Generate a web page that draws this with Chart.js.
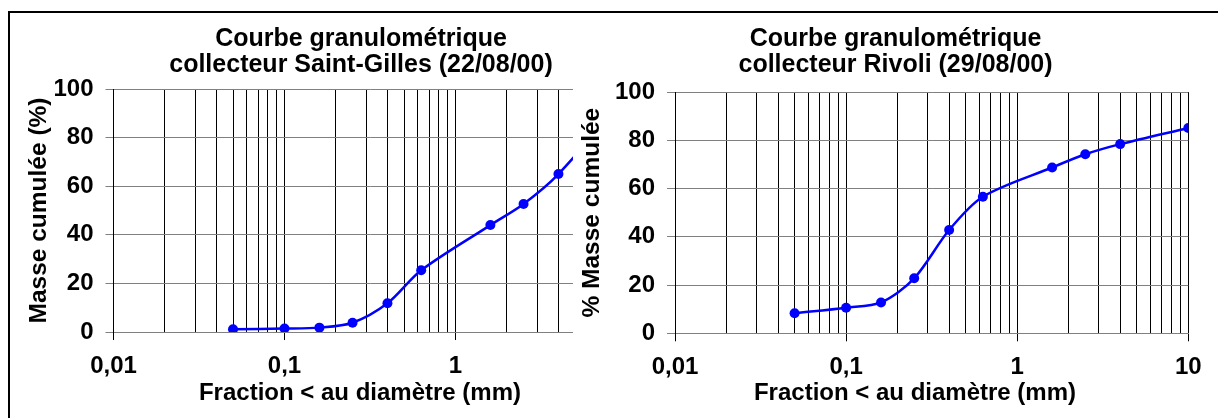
<!DOCTYPE html>
<html>
<head>
<meta charset="utf-8">
<script src="https://cdn.jsdelivr.net/npm/chart.js@4.4.0/dist/chart.umd.min.js"></script>
<style>
body { margin: 0; background: #fff; width: 1218px; height: 418px; overflow: hidden; position: relative; }
#cadre { position: absolute; left: 8px; top: 11px; width: 1300px; height: 500px; border-left: 2px solid #000; border-top: 2px solid #000; z-index: 5; }
#gauche { position: absolute; left: 10px; top: 14px; }
#droite { position: absolute; left: 573px; top: 14px; background: #fff; z-index: 2; }
</style>
</head>
<body>
<div id="cadre"></div>
<canvas id="gauche" width="702" height="404"></canvas>
<canvas id="droite" width="645" height="404"></canvas>
<script>
// tamis (mm) et masse cumulee (%)
const diametres = [0.05, 0.1, 0.16, 0.25, 0.4, 0.63, 1.6, 2.5, 4, 10];
const masseStGilles = [1.1, 1.4, 1.8, 3.8, 11.8, 25.4, 44, 52.7, 65, 97];
const masseRivoli = [8.3, 10.6, 12.8, 22.8, 42.8, 56.6, 68.7, 74.2, 78.4, 85.1];

const decades = [0.01, 0.1, 1, 10];
const decadeLabels = ['0,01', '0,1', '1', '10'];

// lignes de grille log : 1..9 x chaque decade
const grilleX = [];
for (let d = 0; d < 3; d++) {
    for (let k = 1; k < 10; k++) {
        grilleX.push(Number((k * decades[d]).toPrecision(3)));
    }
}
grilleX.push(10);

const estDecade = v => decades.some(d => Math.abs(d - v) < 1e-9);

Chart.defaults.font.family = "Arial, 'Liberation Sans', sans-serif";
Chart.defaults.color = '#000';

function courbe(id, titre, titreY, valeurs, p) {
    const ctx = document.getElementById(id).getContext('2d');
    return new Chart(ctx, {
        type: 'line',
        data: {
            datasets: [{
                data: diametres.map((d, i) => ({ x: d, y: valeurs[i] })),
                borderColor: '#0000ff',
                backgroundColor: '#0000ff',
                borderWidth: 2.5,
                pointRadius: 5,
                pointBorderWidth: 0,
                tension: 0.3,
                fill: false
            }]
        },
        options: {
            responsive: false,
            animation: false,
            layout: { padding: 0 },
            plugins: {
                legend: { display: false },
                tooltip: { enabled: false },
                title: {
                    display: true,
                    text: titre,
                    color: '#000',
                    font: { size: 25, weight: 'bold', lineHeight: 26 / 25 },
                    padding: { top: 12, bottom: p.titreBas }
                }
            },
            scales: {
                x: {
                    type: 'logarithmic',
                    min: 0.01,
                    max: 10,
                    afterBuildTicks: s => { s.ticks = grilleX.map(v => ({ value: v })); },
                    afterFit: s => { s.height = p.hautX; s.paddingRight = p.droite; },
                    grid: {
                        color: '#000',
                        lineWidth: 1,
                        tickLength: 8,
                        tickColor: c => estDecade(c.tick.value) ? '#000' : 'rgba(0,0,0,0)'
                    },
                    border: { color: '#808080' },
                    ticks: {
                        autoSkip: false,
                        maxRotation: 0,
                        padding: 12,
                        font: { size: 24, weight: 'bold' },
                        callback: v => {
                            const i = decades.findIndex(d => Math.abs(d - v) < 1e-9);
                            return i >= 0 ? decadeLabels[i] : '';
                        }
                    },
                    title: {
                        display: true,
                        // espaces insecables : titre decale vers la gauche comme dans Excel
                        text: 'Fraction < au diamètre (mm)' + '\u00a0'.repeat(p.decalX),
                        font: { size: 24, weight: 'bold' },
                        padding: { top: 0, bottom: 10 }
                    }
                },
                y: {
                    min: 0,
                    max: 100,
                    afterFit: s => { s.width = p.largeY; },
                    grid: { color: '#808080', lineWidth: 1, tickLength: 8, tickColor: '#808080' },
                    border: { color: '#000' },
                    ticks: {
                        stepSize: 20,
                        padding: 12,
                        font: { size: 24, weight: 'bold' }
                    },
                    title: {
                        display: true,
                        text: titreY,
                        font: { size: 24.5, weight: 'bold' },
                        padding: { top: p.titreYPad, bottom: 0 }
                    }
                }
            }
        }
    });
}

courbe('gauche', ['Courbe granulométrique', 'collecteur Saint-Gilles (22/08/00)'],
    'Masse cumulée (%)', masseStGilles,
    { titreBas: 11, hautX: 86, droite: 85.5, largeY: 103.5, titreYPad: 14.4, decalX: 3 });

courbe('droite', ['Courbe granulométrique', 'collecteur Rivoli (29/08/00)'],
    '% Masse cumulée', masseRivoli,
    { titreBas: 14, hautX: 84.7, droite: 29.7, largeY: 102, titreYPad: 4.4, decalX: 5 });
</script>
</body>
</html>
